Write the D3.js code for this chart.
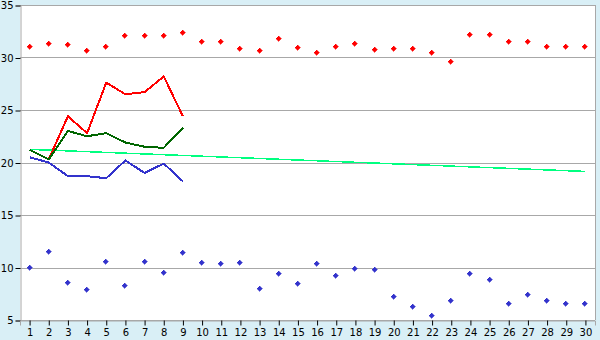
<!DOCTYPE html>
<html>
<head>
<meta charset="utf-8">
<script src="https://cdn.jsdelivr.net/npm/d3@7"></script>
<style>
  body { margin: 0; background: #d9eff6; }
  svg { display: block; }
  text { font-family: "DejaVu Sans", Verdana, sans-serif; font-size: 10px; fill: #000; }
</style>
</head>
<body>
<svg></svg>
<script>
// categories (day of month)
var days = [1,2,3,4,5,6,7,8,9,10,11,12,13,14,15,16,17,18,19,20,21,22,23,24,25,26,27,28,29,30]
var yTicks = [5,10,15,20,25,30,35]

// scatter series
var redDots = [31.0,31.3,31.2,30.6,31.0,32.0,32.0,32.0,32.3,31.5,31.5,30.8,30.6,31.8,30.9,
               30.4,31.0,31.3,30.7,30.8,30.8,30.4,29.6,32.1,32.1,31.5,31.5,31.0,31.0,31.0]
var blueDots = [10.0,11.5,8.5,7.9,10.5,8.2,10.5,9.5,11.4,10.4,10.3,10.4,8.0,9.4,8.4,
                10.3,9.2,9.9,9.8,7.2,6.2,5.4,6.8,9.4,8.8,6.5,7.4,6.8,6.5,6.5]

// line series (first 9 days only)
var redLine   = [21.2,20.3,24.4,22.8,27.6,26.5,26.7,28.2,24.4]
var greenLine = [21.2,20.3,23.0,22.5,22.8,21.9,21.5,21.4,23.3]
var blueLine  = [20.5,20.0,18.7,18.7,18.5,20.2,19.0,19.9,18.2]

// trend line endpoints (day 1 and day 30)
var trendDays = [1,30]
var trendVals = [21.25,19.15]

var screen = {width:600, height:340}
var margins = {top:5, right:5, bottom:20, left:20}

var svg = d3.select("svg")
    .attr("width", screen.width)
    .attr("height", screen.height)

var xScale = d3.scalePoint()
    .domain(days)
    .range([margins.left, screen.width - margins.right])
    .padding(0.5)

var yScale = d3.scaleLinear()
    .domain([5,35])
    .range([screen.height - margins.bottom, margins.top])

// plot background
svg.append("rect")
    .attr("x", margins.left)
    .attr("y", margins.top)
    .attr("width", screen.width - margins.left - margins.right)
    .attr("height", screen.height - margins.top - margins.bottom)
    .attr("fill", "white")

// gridlines + frame
svg.append("g").selectAll("line")
    .data(yTicks)
    .enter()
    .append("line")
    .attr("x1", margins.left)
    .attr("x2", screen.width - margins.right)
    .attr("y1", function(d){return Math.round(yScale(d)) + 0.5})
    .attr("y2", function(d){return Math.round(yScale(d)) + 0.5})
    .attr("stroke", "#a8a8a8")
    .attr("stroke-width", 1)

svg.append("line")
    .attr("x1", screen.width - margins.right + 0.5)
    .attr("x2", screen.width - margins.right + 0.5)
    .attr("y1", margins.top)
    .attr("y2", screen.height - margins.bottom)
    .attr("stroke", "#a8a8a8")

// axes
var yAxis = d3.axisLeft(yScale).tickValues(yTicks).tickSize(5).tickPadding(2)
var xAxis = d3.axisBottom(xScale).tickSize(5).tickPadding(3)

var gy = svg.append("g")
    .attr("transform", "translate(" + (margins.left + 0.5) + ",0.5)")
    .call(yAxis)
gy.select(".domain").attr("stroke", "#a8a8a8")
gy.selectAll(".tick line").attr("stroke", "#000")
gy.selectAll(".tick text").attr("font-size", 11).attr("font-family", null)

var gx = svg.append("g")
    .attr("transform", "translate(0," + (screen.height - margins.bottom + 0.5) + ")")
    .call(xAxis)
gx.select(".domain").attr("stroke", "#a8a8a8")
gx.selectAll(".tick line").attr("stroke", "#000")
gx.selectAll(".tick text").attr("font-size", 10).attr("font-family", null)

// trend line
var trendData = trendDays.map(function(d,i){return {day:d, v:trendVals[i]}})
svg.append("path")
    .datum(trendData)
    .attr("fill", "none")
    .attr("stroke", "#00ff80")
    .attr("stroke-width", 1.5)
    .attr("shape-rendering", "crispEdges")
    .attr("d", d3.line()
        .x(function(d){return xScale(d.day)})
        .y(function(d){return yScale(d.v)}))

// lines
var lineGenerator = d3.line()
    .x(function(v,i){return xScale(days[i])})
    .y(function(v){return yScale(v)})

var lines = [
    {arr:redLine, color:"#ff0000"},
    {arr:blueLine, color:"#3333cc"},
    {arr:greenLine, color:"#006600"}
]
svg.append("g").selectAll("path")
    .data(lines)
    .enter()
    .append("path")
    .attr("fill", "none")
    .attr("stroke", function(d){return d.color})
    .attr("stroke-width", 2)
    .attr("stroke-linejoin", "round")
    .attr("shape-rendering", "crispEdges")
    .attr("d", function(d){return lineGenerator(d.arr)})

// markers: small pixel plus/diamond
var marker = "M-0.5,-2.5h1v1h1v1h1v1h-1v1h-1v1h-1v-1h-1v-1h-1v-1h1v-1h1z"
var drawDots = function(arr, color)
{
    svg.append("g").selectAll("path")
        .data(arr)
        .enter()
        .append("path")
        .attr("d", marker)
        .attr("fill", color)
        .attr("stroke", color)
        .attr("stroke-width", 0.5)
        .attr("shape-rendering", "crispEdges")
        .attr("transform", function(v,i){
            return "translate(" + (Math.round(xScale(days[i])) - 0.5) + "," + (Math.round(yScale(v)) - 0.5) + ")"
        })
}
drawDots(redDots, "#ff0000")
drawDots(blueDots, "#3333cc")
</script>
</body>
</html>
